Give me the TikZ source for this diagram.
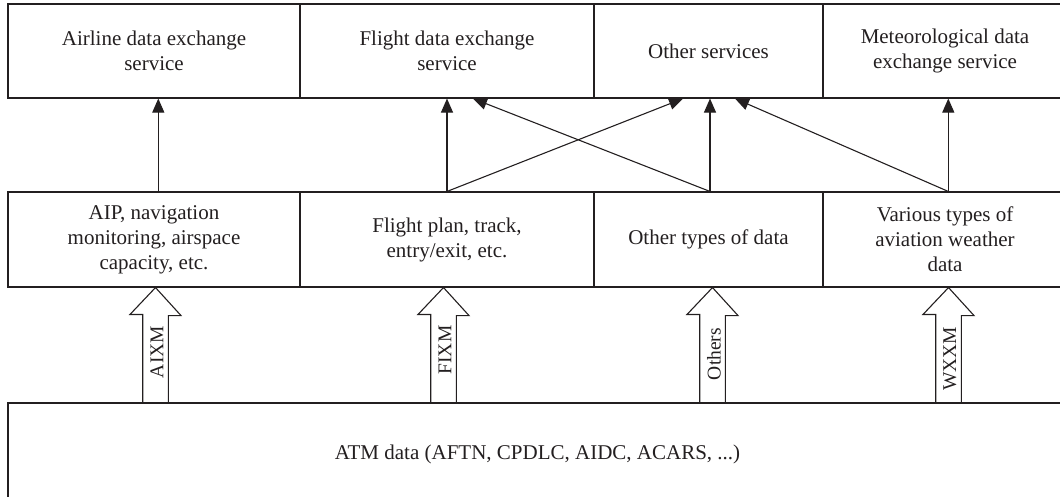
\documentclass[tikz,border=0pt]{standalone}
\usepackage{fontspec}
\setmainfont{Liberation Serif}
\usetikzlibrary{calc,arrows.meta}
\definecolor{ink}{HTML}{231F20}
\begin{document}
\begin{tikzpicture}[x=1pt,y=-1pt,
  every node/.style={text=ink},
  box/.style={draw=ink, line width=1.1pt, inner sep=0pt, align=center,
              font=\fontsize{21}{25}\selectfont},
  link/.style={draw=ink, line width=1.1pt, -{Triangle[length=14pt,width=12pt]}},
  fat/.style={draw=ink, line width=1.1pt, line join=miter},
  tag/.style={rotate=90, inner sep=0pt, font=\fontsize{19.5}{22}\selectfont}]
\useasboundingbox (0,0) rectangle (1060,496);
\clip (0,0) rectangle (1060,496);

% services (top row)
\node[box, minimum width=292pt, minimum height=94pt] (t1) at (154,51) {Airline data exchange\\service};
\node[box, minimum width=294pt, minimum height=94pt] (t2) at (447,51) {Flight data exchange\\service};
\node[box, minimum width=229pt, minimum height=94pt] (t3) at (708.5,51) {Other services};
\node[box, minimum width=244pt, minimum height=94pt] (t4) at (945,51) {Meteorological data\\exchange service};

% data categories (middle row)
\node[box, minimum width=292pt, minimum height=95pt] (m1) at (154,239.5) {AIP, navigation\\monitoring, airspace\\capacity, etc.};
\node[box, minimum width=294pt, minimum height=95pt] (m2) at (447,239.5) {Flight plan, track,\\entry/exit, etc.};
\node[box, minimum width=229pt, minimum height=95pt] (m3) at (708.5,239.5) {Other types of data};
\node[box, minimum width=244pt, minimum height=95pt] (m4) at (945,239.5) {Various types of\\aviation weather\\data};

% raw ATM data (bottom, running past the lower edge)
\node[box, minimum width=1059pt, minimum height=104pt] (b) at (537.5,455)
  {\raisebox{6pt}{ATM data (AFTN, CPDLC, AIDC, ACARS, ...)}};

% data category -> service
\draw[link] ([xshift=4.3pt]m1.north) -- ([xshift=4.3pt]t1.south);
\draw[link] (m2.north) -- (t2.south);
\draw[link] (m2.north) -- ([xshift=-25.5pt]t3.south);
\draw[link] ([xshift=1.5pt]m3.north) -- ([xshift=1.5pt]t3.south);
\draw[link] ([xshift=1.5pt]m3.north) -- ([xshift=26pt]t2.south);
\draw[link] ([xshift=3.3pt]m4.north) -- ([xshift=3.3pt]t4.south);
\draw[link] ([xshift=3.3pt]m4.north) -- ([xshift=26.5pt]t3.south);

% exchange models: hollow block arrows from ATM data up to each category
\coordinate (x1) at (155.5,0);
\coordinate (x2) at (443.5,0);
\coordinate (x3) at (712.5,0);
\coordinate (x4) at (948.5,0);
\foreach \k in {1,2,3,4}{
  \draw[fat] ($(b.north -| x\k)+(-12.8,0)$) -- ++(0,-88) -- ++(-12.7,0)
    -- (m\k.south -| x\k) -- ++(25.5,28) -- ++(-12.7,0) -- ++(0,88);
}
\node[tag] (l1) at (157,352) {AIXM};
\node[tag] (l2) at (445,350) {FIXM};
\node[tag] (l3) at (714,354) {Others};
\node[tag] (l4) at (950,359) {WXXM};
\end{tikzpicture}
\end{document}
